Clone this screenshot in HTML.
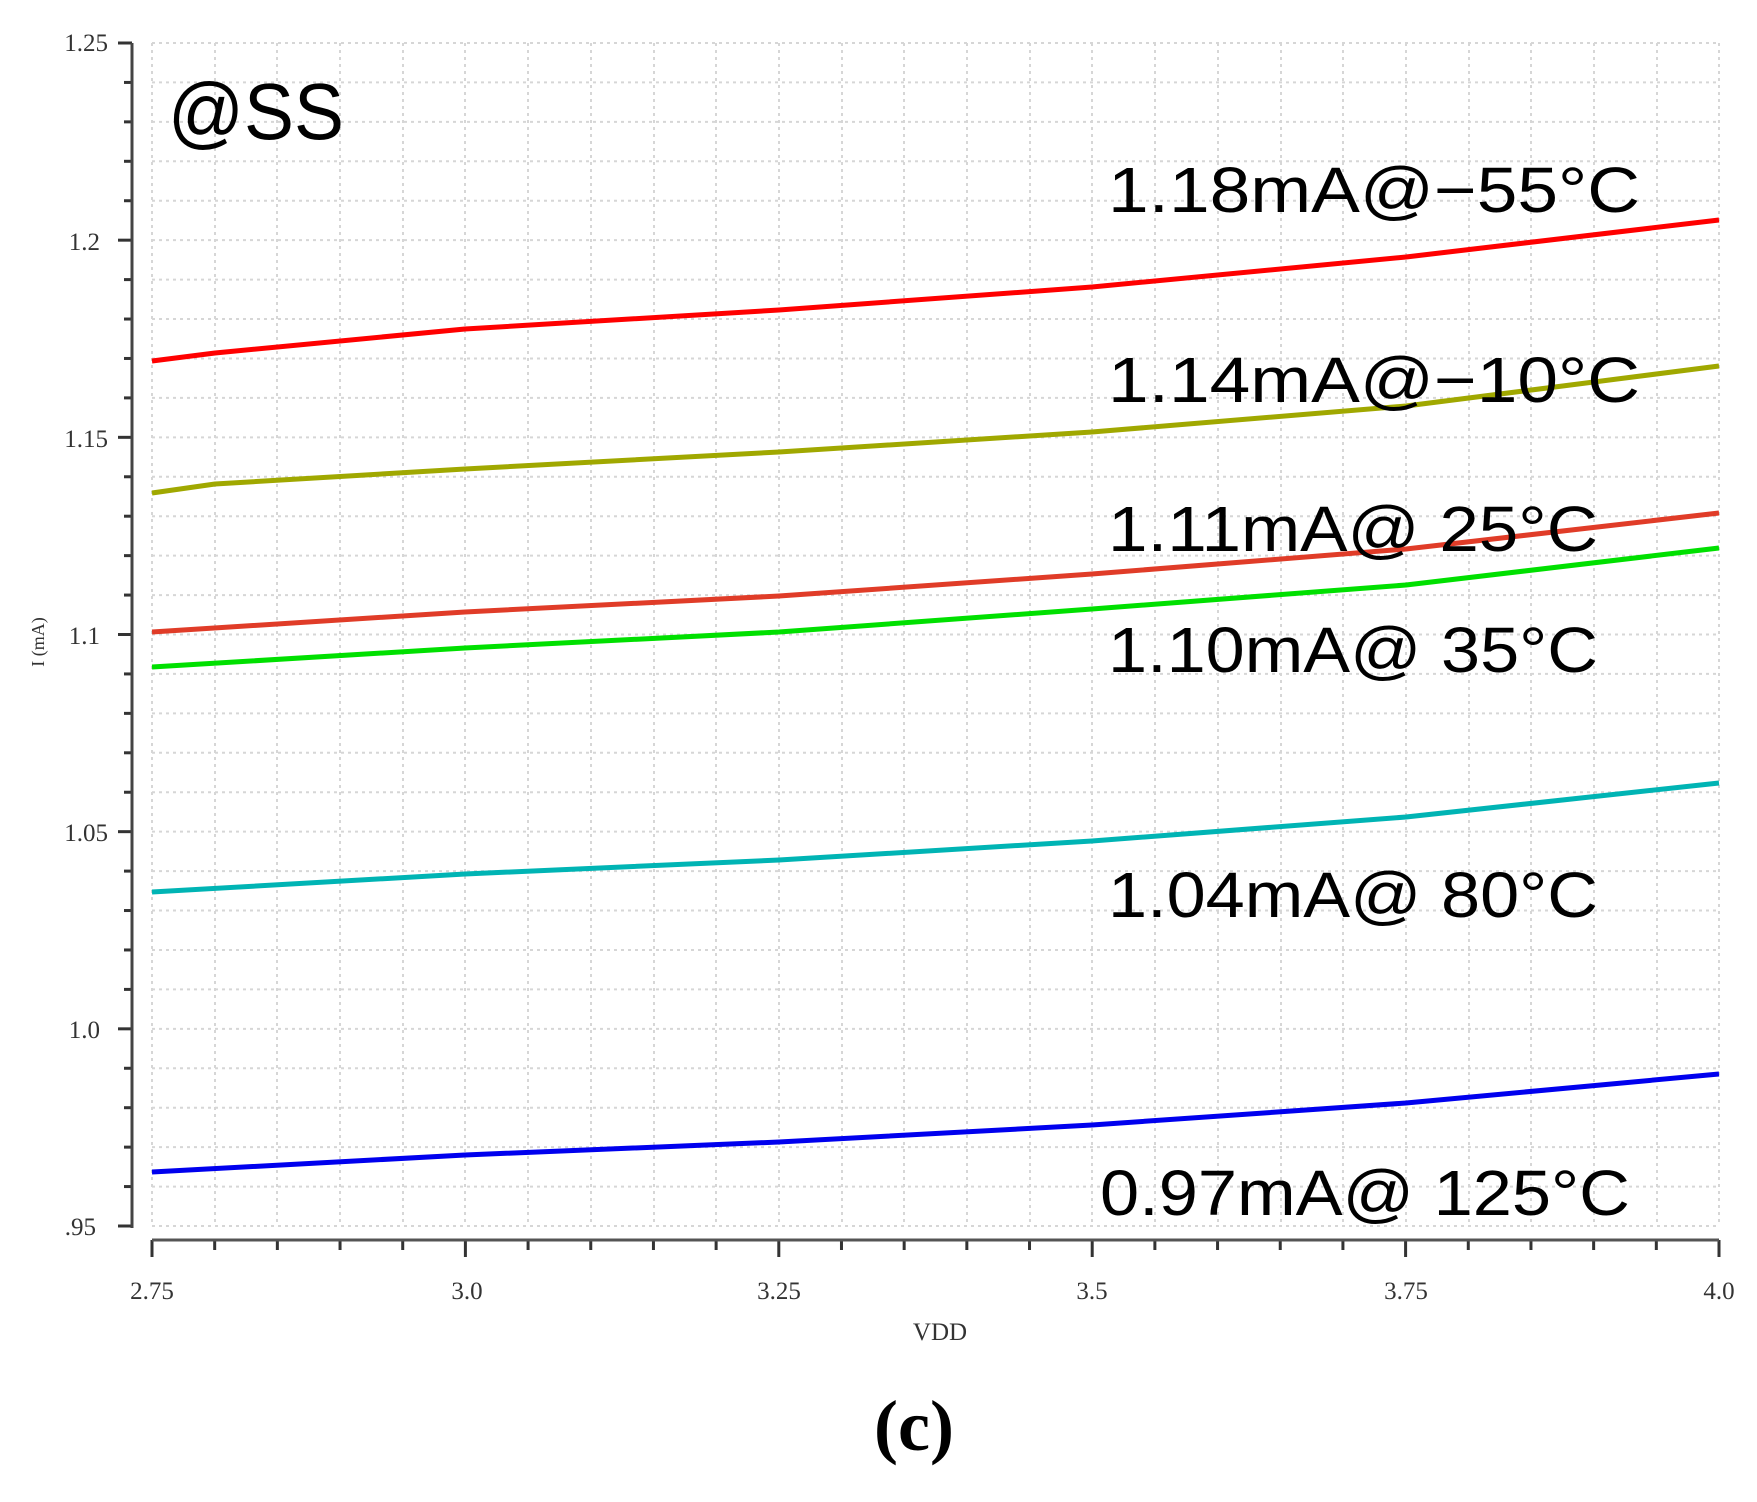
<!DOCTYPE html>
<html><head><style>body{margin:0;background:#fff}svg{display:block}</style></head>
<body>
<svg width="1757" height="1502" viewBox="0 0 1757 1502" xmlns="http://www.w3.org/2000/svg">
<g id="grid" stroke="#d6d6d6" stroke-width="2" stroke-dasharray="3,4">
<line x1="152" y1="43" x2="152" y2="1226"/><line x1="215" y1="43" x2="215" y2="1226"/><line x1="277" y1="43" x2="277" y2="1226"/><line x1="340" y1="43" x2="340" y2="1226"/><line x1="403" y1="43" x2="403" y2="1226"/><line x1="465" y1="43" x2="465" y2="1226"/><line x1="528" y1="43" x2="528" y2="1226"/><line x1="591" y1="43" x2="591" y2="1226"/><line x1="654" y1="43" x2="654" y2="1226"/><line x1="716" y1="43" x2="716" y2="1226"/><line x1="779" y1="43" x2="779" y2="1226"/><line x1="842" y1="43" x2="842" y2="1226"/><line x1="904" y1="43" x2="904" y2="1226"/><line x1="967" y1="43" x2="967" y2="1226"/><line x1="1030" y1="43" x2="1030" y2="1226"/><line x1="1092" y1="43" x2="1092" y2="1226"/><line x1="1155" y1="43" x2="1155" y2="1226"/><line x1="1218" y1="43" x2="1218" y2="1226"/><line x1="1281" y1="43" x2="1281" y2="1226"/><line x1="1343" y1="43" x2="1343" y2="1226"/><line x1="1406" y1="43" x2="1406" y2="1226"/><line x1="1469" y1="43" x2="1469" y2="1226"/><line x1="1531" y1="43" x2="1531" y2="1226"/><line x1="1594" y1="43" x2="1594" y2="1226"/><line x1="1657" y1="43" x2="1657" y2="1226"/><line x1="1719" y1="43" x2="1719" y2="1226"/>
</g>
<g id="hgrid" stroke="#d6d6d6" stroke-width="2" stroke-dasharray="3,4"></g>
<g id="yt" stroke="#333" stroke-width="3"></g>
<g id="xt" stroke="#333" stroke-width="3"></g>
<line x1="132" y1="43" x2="132" y2="1228" stroke="#444" stroke-width="3"/>
<line x1="152" y1="1240" x2="1719" y2="1240" stroke="#555" stroke-width="3"/>
<g font-family="Liberation Serif, serif" font-size="25" fill="#333" text-anchor="end">
<text x="108" y="51">1.25</text><text x="100" y="250">1.2</text><text x="108" y="447">1.15</text><text x="100" y="644">1.1</text><text x="108" y="841">1.05</text><text x="100" y="1038">1.0</text><text x="96" y="1235">.95</text>
</g>
<g font-family="Liberation Serif, serif" font-size="25" fill="#333" text-anchor="middle">
<text x="152" y="1299">2.75</text><text x="467" y="1299">3.0</text><text x="779" y="1299">3.25</text><text x="1092" y="1299">3.5</text><text x="1406" y="1299">3.75</text><text x="1719" y="1299">4.0</text>
<text x="940" y="1340">VDD</text>
<text transform="translate(44,642) rotate(-90)" font-size="18">I (mA)</text>
<text x="914" y="1450" font-size="72" font-weight="bold" fill="#000">(c)</text>
</g>
<g fill="none" stroke-width="5" stroke-linejoin="round">
<polyline stroke="#ff0000" points="152,361 215,353 465,329 779,310 1092,287 1406,257 1719,220"/>
<polyline stroke="#a0a800" points="152,493 215,484 465,469 779,452 1092,432 1406,406 1719,366"/>
<polyline stroke="#e03c28" points="152,632 465,612 779,596 1092,574 1406,549 1719,513"/>
<polyline stroke="#00e000" points="152,667 465,648 779,632 1092,609 1406,585 1719,548"/>
<polyline stroke="#00b4b4" points="152,892 465,874 779,860 1092,841 1406,817 1719,783"/>
<polyline stroke="#0000ee" points="152,1172 465,1155 779,1142 1092,1125 1406,1103 1719,1074"/>
</g>
<g font-family="Liberation Sans, sans-serif" font-size="64" fill="#000">
<text x="168" y="139" font-size="80" textLength="176" lengthAdjust="spacingAndGlyphs">@SS</text>
<text x="1108" y="212" textLength="532" lengthAdjust="spacingAndGlyphs">1.18mA@−55°C</text>
<text x="1108" y="402" textLength="532" lengthAdjust="spacingAndGlyphs">1.14mA@−10°C</text>
<text x="1108" y="551" textLength="490" lengthAdjust="spacingAndGlyphs">1.11mA@ 25°C</text>
<text x="1108" y="672" textLength="490" lengthAdjust="spacingAndGlyphs">1.10mA@ 35°C</text>
<text x="1108" y="917" textLength="490" lengthAdjust="spacingAndGlyphs">1.04mA@ 80°C</text>
<text x="1100" y="1215" textLength="530" lengthAdjust="spacingAndGlyphs">0.97mA@ 125°C</text>
</g>
<script>
var ns="http://www.w3.org/2000/svg";
var hg=document.getElementById("hgrid"),yt=document.getElementById("yt"),xt=document.getElementById("xt");
for(var i=0;i<=30;i++){var y=43+i*1183/30;
var l=document.createElementNS(ns,"line");l.setAttribute("x1",152);l.setAttribute("x2",1719);l.setAttribute("y1",y);l.setAttribute("y2",y);hg.appendChild(l);
var t=document.createElementNS(ns,"line");t.setAttribute("x1",i%5==0?118:124);t.setAttribute("x2",132);t.setAttribute("y1",y);t.setAttribute("y2",y);yt.appendChild(t);}
for(var j=0;j<=25;j++){var x=152+j*1567/25;
var t2=document.createElementNS(ns,"line");t2.setAttribute("x1",x);t2.setAttribute("x2",x);t2.setAttribute("y1",1240);t2.setAttribute("y2",j%5==0?1257:1250);xt.appendChild(t2);}
</script>
</svg>
</body></html>
